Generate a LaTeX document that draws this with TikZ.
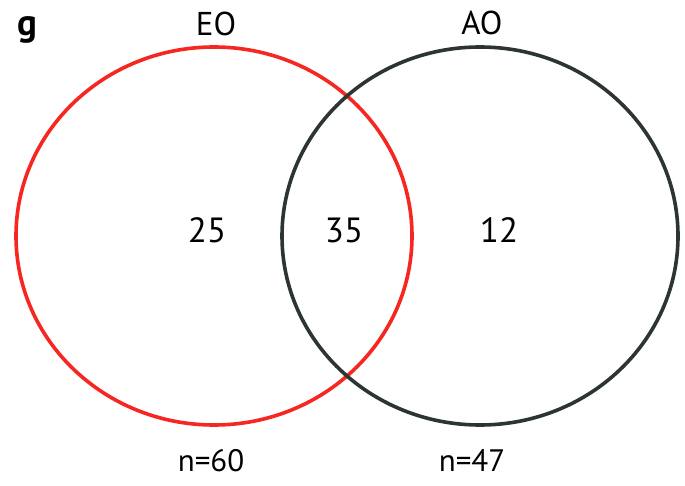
\documentclass[tikz,border=0pt]{standalone}
\usepackage{fontspec}
\setmainfont{PT Sans}
\usepackage{tikz}
\usetikzlibrary{positioning}
\definecolor{eored}{RGB}{246,38,32}
\definecolor{aogray}{RGB}{44,52,52}

\begin{document}
\begin{tikzpicture}[
    x=1pt, y=-1pt,
    set/.style   = {line width=3.6pt},
    title/.style = {anchor=base, font=\fontsize{33}{36}\selectfont},
    count/.style = {anchor=base, font=\fontsize{35}{38}\selectfont},
    size/.style  = {anchor=base, font=\fontsize{31}{34}\selectfont},
]
\useasboundingbox (0,0) rectangle (685,486);
\draw[set, eored]  (214,236) ellipse [x radius=198, y radius=189];
\draw[set, aogray] (480,236) ellipse [x radius=198, y radius=189];
\node[anchor=base, font=\fontsize{37}{40}\selectfont\bfseries] (panel) at (27,36) {g};
\node[title] (eo) at (216,36) {EO};
\node[title] (ao) at (482,35) {AO};
\node[count] (only-eo) at (207,243) {25};
\node[count] (both)    at (344,243) {35};
\node[count] (only-ao) at (499,243) {12};
\node[size]  (n-eo) at (211,471) {n=60};
\node[size]  (n-ao) at (472,471) {n=47};
\end{tikzpicture}
\end{document}
